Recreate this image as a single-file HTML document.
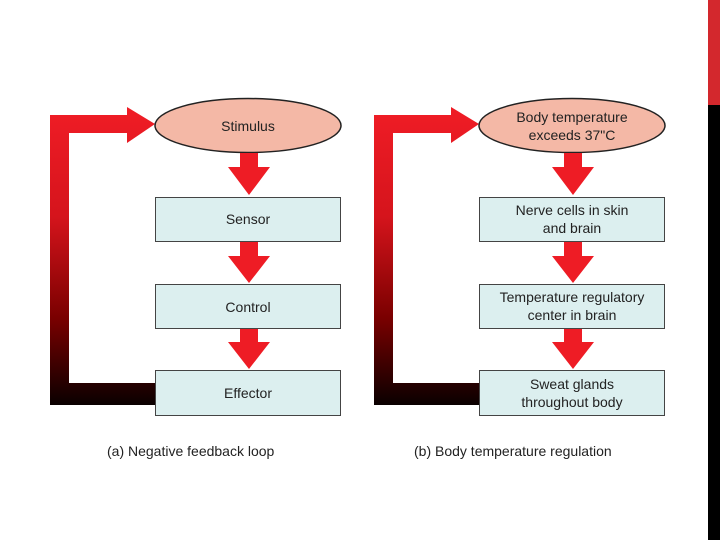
<!DOCTYPE html>
<html><head><style>
html,body{margin:0;padding:0;background:#fff;}
svg{display:block;}
text{font-family:"Liberation Sans",sans-serif;fill:#222;}
</style></head><body>
<svg width="720" height="540" viewBox="0 0 720 540" xmlns="http://www.w3.org/2000/svg">
<defs>
<linearGradient id="g" gradientUnits="userSpaceOnUse" x1="0" y1="115" x2="0" y2="405">
<stop offset="0" stop-color="#ee1c25"/><stop offset="0.35" stop-color="#d5141c"/><stop offset="0.7" stop-color="#7a0000"/><stop offset="1" stop-color="#0a0000"/>
</linearGradient>
<g id="d">
<path d="M50,115 H127 V107 L155,124 L127,143 V133 H69 V383 H155 V405 H50 Z" fill="url(#g)"/>
<ellipse cx="248" cy="125.5" rx="93" ry="27" fill="#f4b8a6" stroke="#222" stroke-width="1.5"/>
<rect x="155.5" y="197.5" width="185" height="44" fill="#dcefef" stroke="#444"/>
<rect x="155.5" y="284.5" width="185" height="44" fill="#dcefef" stroke="#444"/>
<rect x="155.5" y="370.5" width="185" height="45" fill="#dcefef" stroke="#444"/>
<path d="M240,153 H258 V167 H270 L249,195 L228,167 H240 Z" fill="#ee1c25"/>
<path d="M240,242 H258 V256 H270 L249,283 L228,256 H240 Z" fill="#ee1c25"/>
<path d="M240,329 H258 V342 H270 L249,369 L228,342 H240 Z" fill="#ee1c25"/>
</g>
</defs>
<use href="#d"/>
<use href="#d" transform="translate(324,0)"/>
<g font-size="14" text-anchor="middle">
<text x="248" y="131">Stimulus</text>
<text x="248" y="224">Sensor</text>
<text x="248" y="312">Control</text>
<text x="248" y="398">Effector</text>
<text x="572" y="122">Body temperature</text>
<text x="572" y="140">exceeds 37"C</text>
<text x="572" y="215">Nerve cells in skin</text>
<text x="572" y="233">and brain</text>
<text x="572" y="302">Temperature regulatory</text>
<text x="572" y="320">center in brain</text>
<text x="572" y="389">Sweat glands</text>
<text x="572" y="407">throughout body</text>
</g>
<g font-size="14">
<text x="107" y="456">(a) Negative feedback loop</text>
<text x="414" y="456">(b) Body temperature regulation</text>
</g>
<rect x="708" y="0" width="12" height="105" fill="#d3282d"/>
<rect x="708" y="105" width="12" height="435" fill="#000"/>
</svg>
</body></html>
